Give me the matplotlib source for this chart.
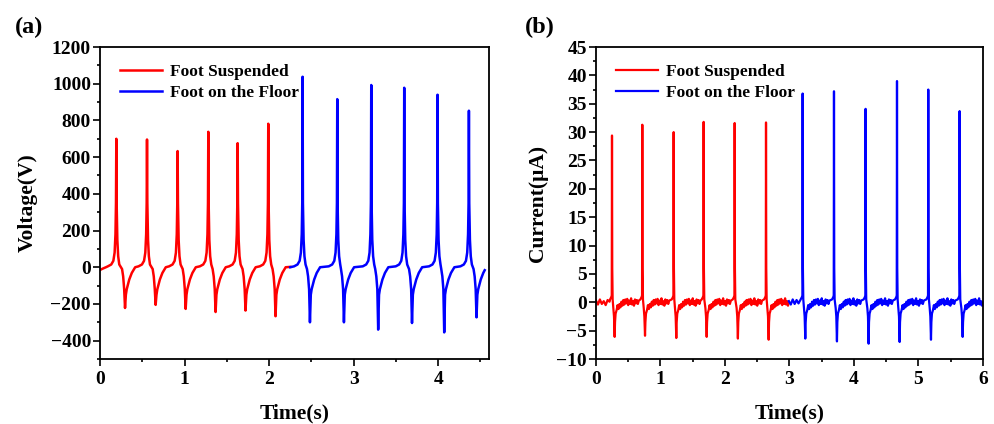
import matplotlib
matplotlib.use('Agg')
import matplotlib.pyplot as plt
from matplotlib.ticker import MultipleLocator

plt.rcParams['font.family'] = ['Liberation Serif', 'DejaVu Serif']
plt.rcParams['font.weight'] = 'bold'
plt.rcParams['axes.labelweight'] = 'bold'

# ---------------- Panel (a): Voltage ----------------
a_red_peak_t = [0.193, 0.556, 0.918, 1.281, 1.628, 1.990]
a_red_peak_v = [700, 696, 633, 738, 676, 782]
a_red_trough_t = [0.296, 0.658, 1.013, 1.367, 1.721, 2.076]
a_red_trough_v = [-222, -205, -227, -244, -236, -267]
a_blue_peak_t = [2.396, 2.806, 3.208, 3.598, 3.992, 4.363]
a_blue_peak_v = [1038, 916, 993, 978, 940, 853]
a_blue_trough_t = [2.483, 2.885, 3.290, 3.690, 4.071, 4.453]
a_blue_trough_v = [-300, -300, -340, -304, -355, -273]
a_red_head_t = [0.0, 0.03, 0.07]
a_red_head_v = [-15, -8, 0]
a_blue_head_t = [2.25]
a_blue_head_v = [0]
a_red_end = (2.25, 2)
a_blue_end = (4.55, -16)

# pulse profile (a)
a_rise_dt = [-0.1, -0.06, -0.035, -0.02, -0.01, -0.004]   # before peak
a_rise_v = [5, 15, 35, 80, 180, 350]
a_fall_dt = [0.004, 0.012, 0.022, 0.035]                   # after peak
a_fall_v = [350, 150, 60, 15]
a_pre_dt = [-0.035, -0.022, -0.01]                         # before trough
a_pre_v = [-10, -50, -120]
a_rec_dt = [0.01, 0.02, 0.05, 0.08, 0.12]                  # after trough
a_rec_v = [-150, -120, -67, -31, 0]

# ---------------- Panel (b): Current ----------------
b_red_peak_t = [0.248, 0.718, 1.204, 1.669, 2.150, 2.636]
b_red_peak_v = [29.4, 31.3, 30.0, 31.8, 31.6, 31.7]
b_red_trough_t = [0.289, 0.760, 1.245, 1.716, 2.200, 2.677]
b_red_trough_v = [-6.1, -5.9, -6.3, -6.1, -6.4, -6.6]
b_blue_peak_t = [3.204, 3.690, 4.180, 4.667, 5.152, 5.638]
b_blue_peak_v = [36.8, 37.2, 34.1, 39.0, 37.5, 33.7]
b_blue_trough_t = [3.245, 3.736, 4.227, 4.708, 5.194, 5.685]
b_blue_trough_v = [-6.4, -6.9, -7.3, -7.0, -6.6, -6.1]
b_red_head_t = [0.0, 0.03, 0.06, 0.09, 0.12, 0.15, 0.18, 0.21]
b_red_head_v = [0.3, -0.4, 0.5, -0.3, 0.2, -0.5, 0.4, 0.1]
b_blue_head_t = [2.99, 3.02, 3.05, 3.08, 3.11, 3.14]
b_blue_head_v = [0.2, -0.4, 0.5, -0.3, 0.4, -0.2]
b_red_end = (2.99, 0.1)
b_blue_end = (6.0, -0.1)

# pulse profile (b)
b_rise_dt = [-0.03, -0.012, -0.004]
b_rise_v = [0.5, 0.9, 1.2]
b_fall_dt = [0.004, 0.01]
b_fall_v = [6.0, 0.5]
b_pre_dt = [-0.02, -0.01]
b_pre_v = [-1.0, -2.5]
b_rec_dt = [0.006, 0.015, 0.03, 0.045, 0.06, 0.075, 0.09, 0.105, 0.12, 0.135,
            0.15, 0.165, 0.18, 0.195, 0.21, 0.225, 0.24, 0.255, 0.27, 0.285,
            0.30, 0.315, 0.33, 0.345, 0.36, 0.375]
b_rec_v = [-3.5, -2.0, -1.4, -0.5, -1.2, -0.3, -0.9, 0.1, -0.6, 0.4,
           -0.4, 0.5, -0.2, 0.6, -0.5, 0.3, -0.3, 0.7, -0.4, 0.2,
           -0.6, 0.5, -0.2, 0.4, -0.3, 0.3]

legend_labels = ['Foot Suspended', 'Foot on the Floor']


def build(head_t, head_v, peak_t, peak_v, trough_t, trough_v, end, prof):
    rise_dt, rise_v, fall_dt, fall_v, pre_dt, pre_v, rec_dt, rec_v = prof
    pts = list(zip(head_t, head_v))
    for tp, vp, tt, vt in zip(peak_t, peak_v, trough_t, trough_v):
        pts += [(tp + d, v) for d, v in zip(rise_dt, rise_v)]
        pts.append((tp, vp))
        pts += [(tp + d, v) for d, v in zip(fall_dt, fall_v)]
        pts += [(tt + d, v) for d, v in zip(pre_dt, pre_v)]
        pts.append((tt, vt))
        pts += [(tt + d, v) for d, v in zip(rec_dt, rec_v)]
    pts = [p for p in pts if p[0] < end[0]]
    pts.append(end)
    pts.sort(key=lambda p: p[0])
    return [p[0] for p in pts], [p[1] for p in pts]


a_prof = (a_rise_dt, a_rise_v, a_fall_dt, a_fall_v, a_pre_dt, a_pre_v, a_rec_dt, a_rec_v)
b_prof = (b_rise_dt, b_rise_v, b_fall_dt, b_fall_v, b_pre_dt, b_pre_v, b_rec_dt, b_rec_v)

fig = plt.figure(figsize=(9.94, 4.24), dpi=100)
axa = fig.add_axes([0.1006, 0.1533, 0.3913, 0.7358])
axb = fig.add_axes([0.5996, 0.1533, 0.3893, 0.7358])

RED = '#FF0000'
BLUE = '#0000FF'
LW = 1.8

t, v = build(a_red_head_t, a_red_head_v, a_red_peak_t, a_red_peak_v,
             a_red_trough_t, a_red_trough_v, a_red_end, a_prof)
axa.plot(t, v, color=RED, lw=LW, label=legend_labels[0])
t, v = build(a_blue_head_t, a_blue_head_v, a_blue_peak_t, a_blue_peak_v,
             a_blue_trough_t, a_blue_trough_v, a_blue_end, a_prof)
axa.plot(t, v, color=BLUE, lw=LW, label=legend_labels[1])

t, v = build(b_red_head_t, b_red_head_v, b_red_peak_t, b_red_peak_v,
             b_red_trough_t, b_red_trough_v, b_red_end, b_prof)
axb.plot(t, v, color=RED, lw=1.6, label=legend_labels[0])
t, v = build(b_blue_head_t, b_blue_head_v, b_blue_peak_t, b_blue_peak_v,
             b_blue_trough_t, b_blue_trough_v, b_blue_end, b_prof)
axb.plot(t, v, color=BLUE, lw=1.6, label=legend_labels[1])

axa.set_xlim(0, 4.6)
axa.set_ylim(-500, 1200)
axa.xaxis.set_major_locator(MultipleLocator(1))
axa.xaxis.set_minor_locator(MultipleLocator(0.5))
axa.yaxis.set_major_locator(MultipleLocator(200))
axa.yaxis.set_minor_locator(MultipleLocator(100))
axa.set_xlabel('Time(s)', fontsize=15.5, fontweight='bold', labelpad=11)
axa.set_ylabel('Voltage(V)', fontsize=15.5, fontweight='bold', labelpad=9)

axb.set_xlim(0, 6)
axb.set_ylim(-10, 45)
axb.xaxis.set_major_locator(MultipleLocator(1))
axb.xaxis.set_minor_locator(MultipleLocator(0.5))
axb.yaxis.set_major_locator(MultipleLocator(5))
axb.yaxis.set_minor_locator(MultipleLocator(2.5))
axb.set_xlabel('Time(s)', fontsize=15.5, fontweight='bold', labelpad=11)
axb.set_ylabel('Current(μA)', fontsize=15.5, fontweight='bold', labelpad=6)

for ax in (axa, axb):
    for s in ax.spines.values():
        s.set_linewidth(1.3)
    ax.tick_params(which='both', direction='out', width=1.2, top=False, right=False)
    ax.tick_params(which='major', length=5, labelsize=14)
    ax.tick_params(axis='x', which='major', pad=3.5)
    ax.tick_params(axis='y', which='major', pad=1.5)
    ax.tick_params(which='minor', length=2.5)
    for lab in ax.get_xticklabels() + ax.get_yticklabels():
        lab.set_fontweight('bold')
    ax.legend(loc='upper left', bbox_to_anchor=(0.02, 0.985), frameon=False,
              fontsize=12.5, handlelength=2.4, handletextpad=0.5,
              labelspacing=0.3, borderaxespad=0.3)

fig.text(0.015, 0.935, '(a)', fontsize=17.5, fontweight='bold', va='center', ha='left')
fig.text(0.528, 0.935, '(b)', fontsize=17.5, fontweight='bold', va='center', ha='left')

fig.savefig('out.png', dpi=100)
